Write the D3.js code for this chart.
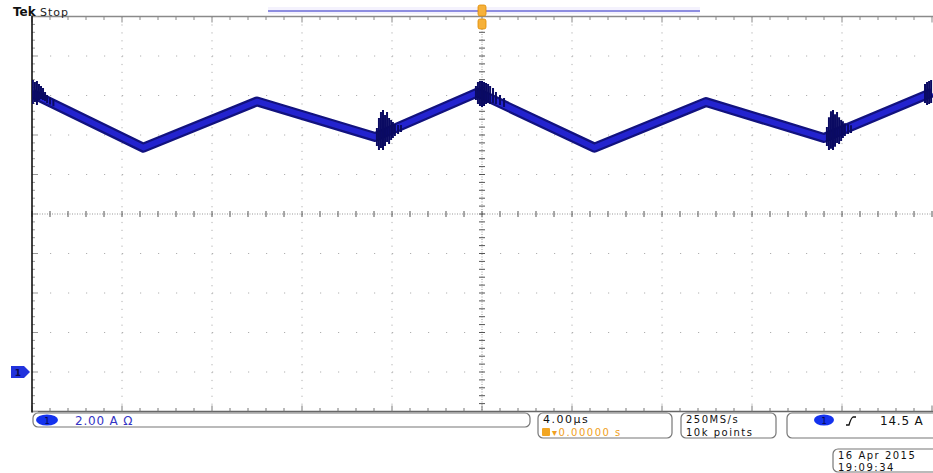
<!DOCTYPE html>
<html>
<head>
<meta charset="utf-8">
<script src="https://d3js.org/d3.v7.min.js"></script>
<style>
    body {margin: 0; background: #fff;}
    text {font-family: "DejaVu Sans", sans-serif;}
    .readout {font-size: 12px; letter-spacing: 0.8px;}
    .stacked {font-size: 10px; letter-spacing: 1.5px;}
</style>
</head>
<body>
<svg width="933" height="473"></svg>
<script>
// main ramp corners, time in us (trigger = 0), current in A
var traceTime = [-20, -15.05, -10.0, -4.75, -0.2, 5.0, 9.95, 15.2, 20];
var traceAmps = [14.1, 11.36, 13.7, 11.9, 14.15, 11.36, 13.67, 11.85, 14.15];

// switching ringing: [time, high, low]
var ringLeft = [[-19.96, 14.78, 13.57], [-19.87, 14.68, 13.67], [-19.78, 14.73, 13.52], [-19.69, 14.58, 13.77],
    [-19.6, 14.48, 13.82], [-19.51, 14.38, 13.77], [-19.42, 14.18, 13.72], [-19.33, 14.03, 13.62],
    [-19.2, 13.9, 13.55], [-19.05, 13.8, 13.45]];
var ringTrough1 = [[-4.67, 12.35, 11.44], [-4.58, 12.86, 11.24], [-4.49, 13.16, 11.34], [-4.4, 13.27, 11.24],
    [-4.31, 13.01, 11.44], [-4.22, 13.16, 11.65], [-4.13, 12.86, 11.54], [-4.04, 12.76, 11.75],
    [-3.96, 12.66, 11.85], [-3.87, 12.56, 11.95], [-3.73, 12.51, 12.05], [-3.6, 12.51, 12.15]];
var ringPeak = [[-0.27, 14.48, 13.77], [-0.18, 14.68, 13.57], [-0.09, 14.73, 13.47], [0, 14.73, 13.42],
    [0.09, 14.68, 13.47], [0.18, 14.63, 13.57], [0.27, 14.58, 13.62], [0.36, 14.48, 13.57],
    [0.49, 14.38, 13.62], [0.62, 14.18, 13.57], [0.8, 14.03, 13.52], [0.98, 13.87, 13.42]];
var ringTrough2 = [[15.33, 12.4, 11.44], [15.42, 12.9, 11.24], [15.51, 13.2, 11.3], [15.6, 13.27, 11.24],
    [15.69, 13.05, 11.4], [15.78, 13.16, 11.6], [15.87, 12.9, 11.54], [15.96, 12.76, 11.7],
    [16.04, 12.7, 11.85], [16.13, 12.6, 11.95], [16.27, 12.55, 12.05], [16.4, 12.5, 12.1]];
var ringRight = [[19.69, 14.58, 13.62], [19.78, 14.68, 13.52], [19.87, 14.73, 13.57], [19.96, 14.78, 13.62]];

// readout texts
var scaleLabel = "2.00 A \u03a9";
var timeLabel = "4.00\u00b5s";
var trigPosLabel = "\u25be0.00000 s";
var rateLabels = ["250MS/s", "10k points"];
var trigLevelLabel = "14.5 A";
var dateLabels = ["16 Apr 2015", "19:09:34"];

var svg = d3.select("svg");
var plotL = 32, plotR = 932, plotT = 16.5, plotB = 411.5;

// graticule: 10 x 10 divisions
var gx = d3.scaleLinear().domain([0, 10]).range([plotL, plotR]);
var gy = d3.scaleLinear().domain([0, 10]).range([plotT, plotB]);
// signal scales: 4 us/div, 2 A/div
var x = d3.scaleLinear().domain([-20, 20]).range([plotL, plotR]);
var y = d3.scaleLinear().domain([-2, 18]).range([plotB, plotT]);

//Grid
var grid = svg.append("g");
var divs = d3.range(1, 10).filter(function(d) { return d != 5; });
grid.selectAll("line.v").data(divs).enter().append("line")
    .attr("x1", function(d) { return gx(d); }).attr("x2", function(d) { return gx(d); })
    .attr("y1", plotT).attr("y2", plotB)
    .style("stroke", "#b0b0b0").style("stroke-width", 1)
    .style("stroke-dasharray", "1.2,6.7");
grid.selectAll("line.h").data(divs).enter().append("line")
    .attr("x1", plotL).attr("x2", plotR)
    .attr("y1", function(d) { return gy(d); }).attr("y2", function(d) { return gy(d); })
    .style("stroke", "#b0b0b0").style("stroke-width", 1)
    .style("stroke-dasharray", "1.2,16.8");

// centre cross with ticks
grid.append("line").attr("x1", plotL).attr("x2", plotR).attr("y1", gy(5)).attr("y2", gy(5))
    .style("stroke", "#999").style("stroke-dasharray", "1,1.5");
grid.append("line").attr("x1", gx(5)).attr("x2", gx(5)).attr("y1", plotT).attr("y2", plotB)
    .style("stroke", "#999").style("stroke-dasharray", "1,1.5");
var minorTicks = d3.range(0, 50.001, 1).map(function(d) { return d / 5; });
grid.selectAll("line.cx").data(minorTicks).enter().append("line")
    .attr("x1", function(d) { return gx(d); }).attr("x2", function(d) { return gx(d); })
    .attr("y1", gy(5) - 3).attr("y2", gy(5) + 3)
    .style("stroke", "#555").style("stroke-width", 1);
grid.selectAll("line.cy").data(minorTicks).enter().append("line")
    .attr("x1", gx(5) - 3).attr("x2", gx(5) + 3)
    .attr("y1", function(d) { return gy(d); }).attr("y2", function(d) { return gy(d); })
    .style("stroke", "#555").style("stroke-width", 1);

// frame edges with ticks
grid.append("line").attr("x1", plotL).attr("x2", plotR + 1).attr("y1", plotT).attr("y2", plotT)
    .style("stroke", "#8a8a8a").style("stroke-width", 1.3);
grid.append("line").attr("x1", plotL).attr("x2", plotR + 1).attr("y1", plotB).attr("y2", plotB)
    .style("stroke", "#666").style("stroke-width", 1.6);
grid.selectAll("line.tt").data(minorTicks).enter().append("line")
    .attr("x1", function(d) { return gx(d); }).attr("x2", function(d) { return gx(d); })
    .attr("y1", plotT).attr("y2", function(d) { return plotT + (d % 1 == 0 ? 6 : 3.5); })
    .style("stroke", "#888");
grid.selectAll("line.bt").data(minorTicks).enter().append("line")
    .attr("x1", function(d) { return gx(d); }).attr("x2", function(d) { return gx(d); })
    .attr("y1", plotB).attr("y2", function(d) { return plotB - (d % 1 == 0 ? 6 : 3.5); })
    .style("stroke", "#777");
grid.selectAll("line.lt").data(minorTicks).enter().append("line")
    .attr("x1", plotL).attr("x2", function(d) { return plotL + (d % 1 == 0 ? 6 : 3); })
    .attr("y1", function(d) { return gy(d); }).attr("y2", function(d) { return gy(d); })
    .style("stroke", "#999");
grid.append("line").attr("x1", plotL).attr("x2", plotL).attr("y1", plotT - 1).attr("y2", plotB + 1)
    .style("stroke", "#111").style("stroke-width", 1.6);

//Trace
svg.append("clipPath").attr("id", "screen").append("rect")
    .attr("x", plotL).attr("y", plotT).attr("width", 933 - plotL).attr("height", plotB - plotT);
var trace = svg.append("g").attr("clip-path", "url(#screen)");
var pts = traceTime.map(function(t, i) { return [t, traceAmps[i]]; });
var line = d3.line().x(function(d) { return x(d[0]); }).y(function(d) { return y(d[1]); });
trace.append("path").datum(pts).attr("d", line)
    .style("fill", "none").style("stroke", "#12127e").style("stroke-width", 10)
    .style("stroke-linejoin", "round");
trace.append("path").datum(pts).attr("d", line)
    .style("fill", "none").style("stroke", "#2323cf").style("stroke-width", 5.5)
    .style("stroke-linejoin", "round");
[ringLeft, ringTrough1, ringPeak, ringTrough2, ringRight].forEach(function(ring) {
    trace.append("g").selectAll("line").data(ring).enter().append("line")
        .attr("x1", function(d) { return x(d[0]); }).attr("x2", function(d) { return x(d[0]); })
        .attr("y1", function(d) { return y(d[1]); }).attr("y2", function(d) { return y(d[2]); })
        .style("stroke", "#0a0a62").style("stroke-width", 2);
});

//Top annotations
svg.append("text").attr("x", 13).attr("y", 16).style("font-size", "12px").style("font-weight", "bold")
    .style("fill", "#111").text("Tek");
svg.append("text").attr("x", 40).attr("y", 15.5).style("font-size", "11px").style("letter-spacing", "1px")
    .style("fill", "#222").text("Stop");
svg.append("rect").attr("x", 268).attr("y", 7).attr("width", 432).attr("height", 7).style("fill", "#f4f2fd");
svg.append("line").attr("x1", 268).attr("x2", 700).attr("y1", 11).attr("y2", 11)
    .style("stroke", "#6b6bd6").style("stroke-width", 1.3);
svg.append("rect").attr("x", x(0) - 4).attr("y", 5).attr("width", 8).attr("height", 11).attr("rx", 2)
    .style("fill", "#f6b13a").style("stroke", "#e08a00").style("stroke-width", 0.8);
svg.append("rect").attr("x", x(0) - 4).attr("y", 19).attr("width", 8).attr("height", 10).attr("rx", 2)
    .style("fill", "#f6b13a").style("stroke", "#e08a00").style("stroke-width", 0.8);

// channel 1 ground marker
svg.append("path")
    .attr("d", "M11," + (y(0) - 6) + "H24L30," + y(0) + "L24," + (y(0) + 6) + "H11Z")
    .style("fill", "#2233dd");
svg.append("text").attr("x", 18).attr("y", y(0) + 3.5).attr("text-anchor", "middle")
    .style("font-size", "9px").style("font-weight", "bold").style("fill", "#0a0a50").text("1");

//Status bar
var bar = svg.append("g");
function box(x0, y0, w, h) {
    bar.append("rect").attr("x", x0).attr("y", y0).attr("width", w).attr("height", h).attr("rx", 5)
        .style("fill", "none").style("stroke", "#777").style("stroke-width", 1.2);
}
box(33, 413, 497, 14);
bar.append("ellipse").attr("cx", 47).attr("cy", 420).attr("rx", 11).attr("ry", 5.5).style("fill", "#1432ee");
bar.append("text").attr("x", 47).attr("y", 423.5).attr("text-anchor", "middle")
    .style("font-size", "9px").style("fill", "#0a0a50").text("1");
bar.append("text").attr("class", "readout").attr("x", 75).attr("y", 424.5).style("fill", "#3434c4")
    .text(scaleLabel);

box(538, 413, 134, 25);
bar.append("text").attr("class", "stacked").attr("x", 543).attr("y", 423).style("fill", "#111")
    .style("font-size", "11px").text(timeLabel);
bar.append("rect").attr("x", 542).attr("y", 428).attr("width", 8).attr("height", 8).attr("rx", 1)
    .style("fill", "#f2a623");
bar.append("text").attr("class", "stacked").attr("x", 552).attr("y", 435.5).style("fill", "#f0a020")
    .text(trigPosLabel);

box(681, 413, 95, 25);
bar.selectAll("text.rate").data(rateLabels).enter().append("text").attr("class", "stacked")
    .attr("x", 686).attr("y", function(d, i) { return 423 + i * 12.5; })
    .style("fill", "#111").text(function(d) { return d; });

box(787, 413, 152, 25);
bar.append("ellipse").attr("cx", 824).attr("cy", 420).attr("rx", 10).attr("ry", 5.5).style("fill", "#1432ee");
bar.append("text").attr("x", 824).attr("y", 423.5).attr("text-anchor", "middle")
    .style("font-size", "9px").style("fill", "#0a0a50").text("1");
bar.append("path").attr("d", "M846,425 L849,425 Q851,418 853,417 L856,417")
    .style("fill", "none").style("stroke", "#111").style("stroke-width", 1.3);
bar.append("text").attr("class", "readout").attr("x", 880).attr("y", 424.5).style("fill", "#111")
    .text(trigLevelLabel);

box(833, 449, 106, 23);
bar.selectAll("text.date").data(dateLabels).enter().append("text").attr("class", "stacked")
    .attr("x", 838).attr("y", function(d, i) { return 458.5 + i * 12; })
    .style("fill", "#111").text(function(d) { return d; });
</script>
</body>
</html>
